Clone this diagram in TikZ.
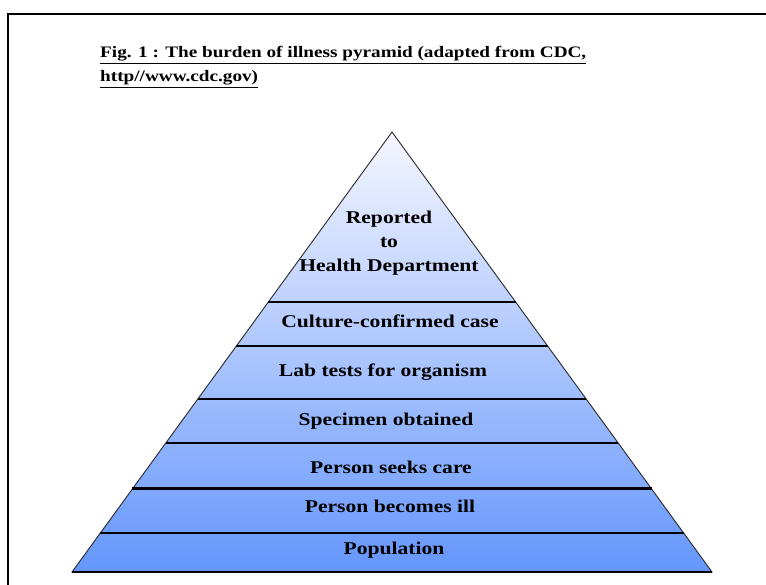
\documentclass[tikz,border=0pt]{standalone}
\usepackage{fontspec}
\setmainfont{Liberation Serif}
\usepackage{tikz}
\usetikzlibrary{calc}

\definecolor{tiptop}{RGB}{246,246,255}
\definecolor{tipbase}{RGB}{100,150,252}

\tikzset{
	layer/.style={font=\fontsize{18}{21}\selectfont\bfseries, inner sep=0pt, xscale=1.2},
	split/.style={line width=1.2pt},
	title/.style={font=\fontsize{16}{24}\selectfont\bfseries, anchor=base west, inner sep=0pt, xscale=1.2}
}

\begin{document}
\begin{tikzpicture}[x=1pt,y=-1pt]
	\useasboundingbox (0,0) rectangle (766,585);

	% frame
	\draw[line width=2.2pt] (8,585) -- (8,14) -- (766,14);

	% title
	\node[title] (fig) at (100,58)
		{\underline{Fig. 1 : The burden of illness pyramid (adapted from CDC,}};
	\node[title] (url) at (100,82) {\underline{http//www.cdc.gov)}};

	% pyramid corners
	\coordinate (apex) at (392,132);
	\coordinate (bl)   at (72,572);
	\coordinate (br)   at (712,572);

	\shade[top color=tiptop, bottom color=tipbase, draw=black!85, line width=0.9pt]
		(apex) -- (bl) -- (br) -- cycle;

	% layer borders
	\foreach \y in {302,346,399,443,533}
		\draw[split] ($(apex)!{(\y-132)/440}!(bl)$) -- ($(apex)!{(\y-132)/440}!(br)$);
	\draw[line width=3pt] ($(apex)!{(489-132)/440}!(bl)$) -- ($(apex)!{(489-132)/440}!(br)$);
	\draw[line width=1.5pt] (bl) -- (br);

	% labels
	\node[layer,align=center] (rep) at (389,243) {Reported\\[3pt]to\\[3pt]Health Department};
	\node[layer] (cult) at (390,321) {Culture-confirmed case};
	\node[layer] (lab)  at (383,372) {Lab tests for organism};
	\node[layer] (spec) at (386,421) {Specimen obtained};
	\node[layer] (seek) at (391,467) {Person seeks care};
	\node[layer] (ill)  at (390,506) {Person becomes ill};
	\node[layer] (pop)  at (394,550) {Population};
\end{tikzpicture}
\end{document}
